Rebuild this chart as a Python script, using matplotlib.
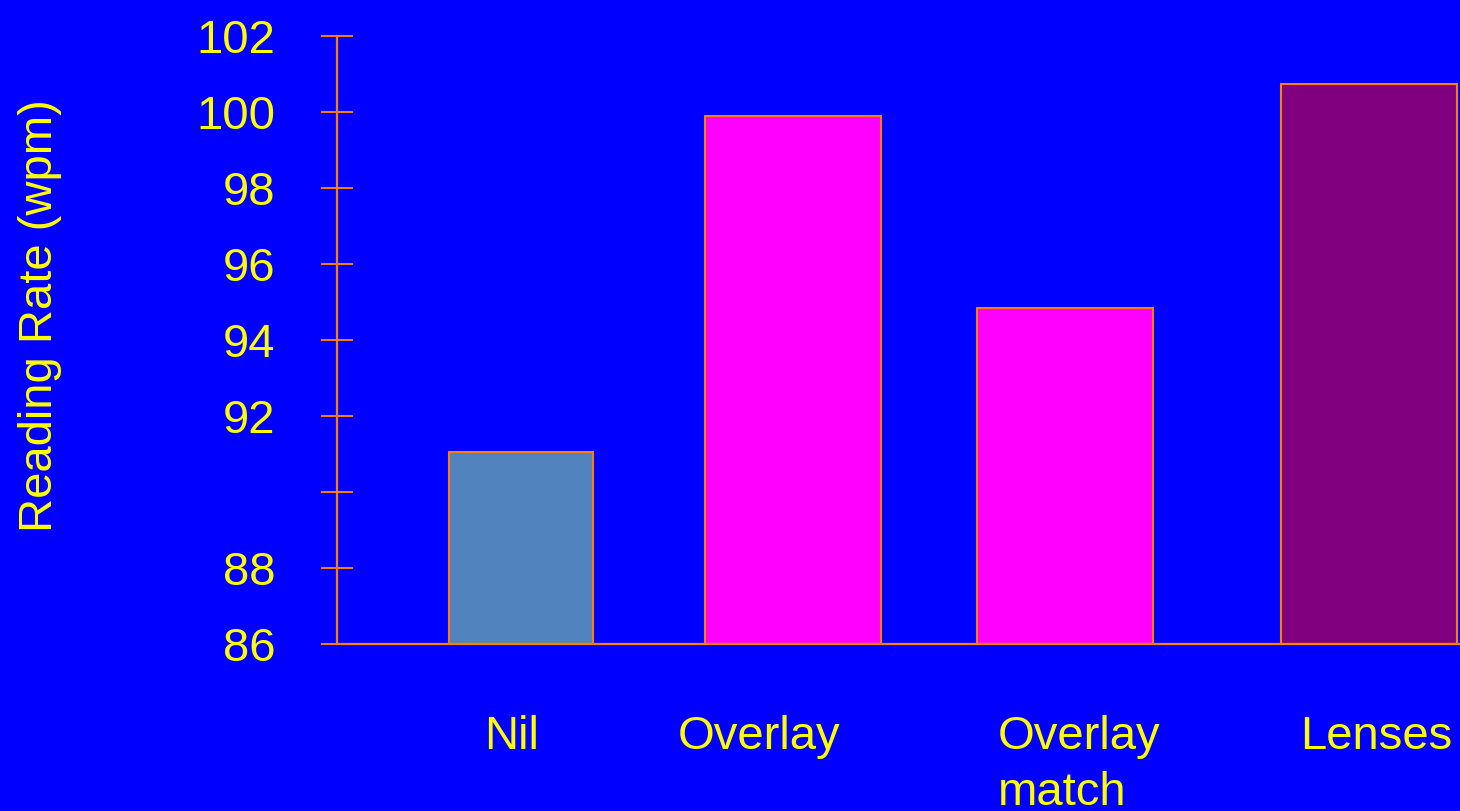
import matplotlib
matplotlib.use("Agg")
import matplotlib.pyplot as plt
import matplotlib.transforms as mtransforms

# Reading rate under each viewing condition
categories = ["Nil", "Overlay", "Overlay\nmatch", "Lenses"]
reading_rate = [91.05, 99.9, 94.84, 100.74]
bar_colors = ["#5183BE", "#FF00FF", "#FF00FF", "#800080"]

y_ticks = [86, 88, 90, 92, 94, 96, 98, 100, 102]
y_tick_labels = ["86", "88", "", "92", "94", "96", "98", "100", "102"]

# layout (slot units along x)
bar_pos = [0.676, 1.676, 2.676, 3.794]
bar_width = [0.53, 0.647, 0.647, 0.647]
label_pos = [0.643, 1.551, 2.43, 3.82]
label_ha = ["center", "center", "left", "center"]

BG = "#0000FF"
FG = "#FFFF00"
AX = "#FF8000"

plt.rcParams["font.family"] = ["Liberation Sans", "DejaVu Sans"]

fig = plt.figure(figsize=(14.6, 8.11), dpi=100, facecolor=BG)
ax = fig.add_axes([337 / 1460, 1 - 644 / 811, 1 - 337 / 1460, (644 - 36) / 811])
ax.set_facecolor(BG)

ax.bar(bar_pos, [v - 86 for v in reading_rate], bottom=86, width=bar_width,
       color=bar_colors, edgecolor=AX, linewidth=1.5, zorder=2)

ax.set_xlim(0, 1123 / 272)
ax.set_ylim(86, 102)

ax.set_yticks(y_ticks)
ax.set_yticklabels(y_tick_labels)
ax.tick_params(axis="y", direction="inout", length=23, width=1.4, color=AX,
               labelcolor=FG, labelsize=34, pad=33)
ax.set_xticks([])

for side in ("top", "right"):
    ax.spines[side].set_visible(False)
for side in ("left", "bottom"):
    ax.spines[side].set_color(AX)
    ax.spines[side].set_linewidth(1.6)
ax.spines["bottom"].set_zorder(3)

ax.set_ylabel("Reading Rate (wpm)", color=FG, fontsize=34, va="center")
ax.yaxis.set_label_coords((40 - 337) / 1123, (644 - 316) / 608)

# category names below the axis, one text per line, first baselines aligned
trans = mtransforms.blended_transform_factory(ax.transData, ax.transAxes)
for x, name, ha in zip(label_pos, categories, label_ha):
    for i, line in enumerate(name.split("\n")):
        ax.annotate(line, xy=(x, (644 - 749) / 608), xycoords=trans,
                    xytext=(0, -40 * i), textcoords="offset points",
                    ha=ha, va="baseline", color=FG, fontsize=34,
                    annotation_clip=False)

fig.savefig("out.png", dpi=100, facecolor=BG)
